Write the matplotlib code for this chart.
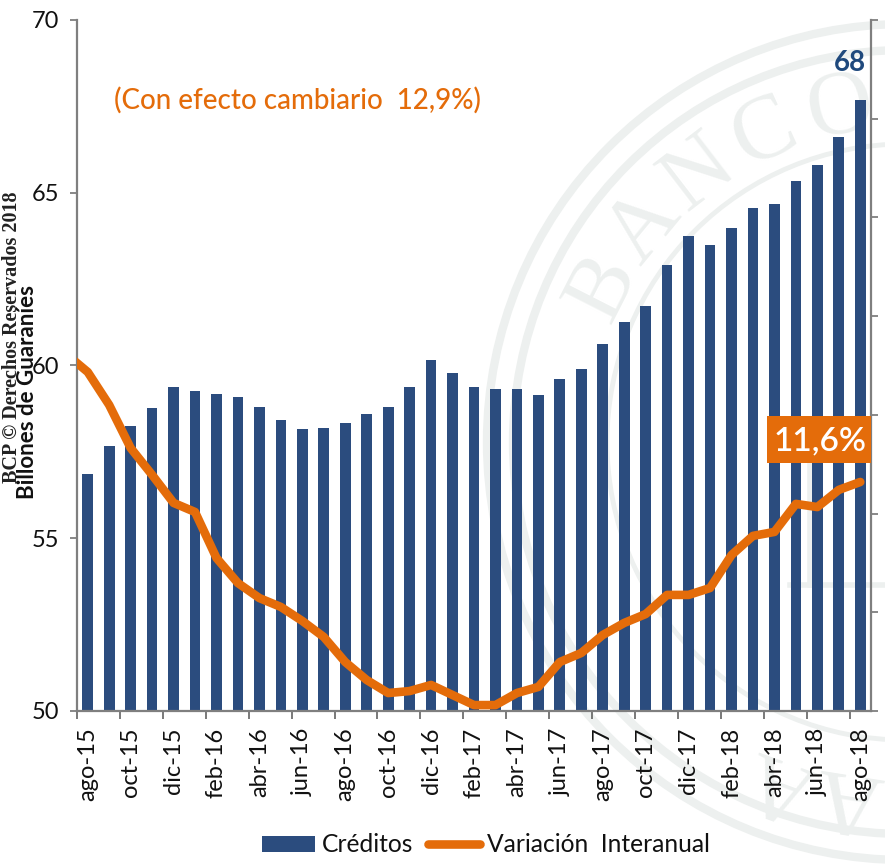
import math
import matplotlib
matplotlib.use("Agg")
import matplotlib.pyplot as plt
from matplotlib.patches import Circle, Rectangle

# datos
meses = ["ago-15", "sep-15", "oct-15", "nov-15", "dic-15", "ene-16", "feb-16", "mar-16", "abr-16", "may-16",
         "jun-16", "jul-16", "ago-16", "sep-16", "oct-16", "nov-16", "dic-16", "ene-17", "feb-17", "mar-17",
         "abr-17", "may-17", "jun-17", "jul-17", "ago-17", "sep-17", "oct-17", "nov-17", "dic-17", "ene-18",
         "feb-18", "mar-18", "abr-18", "may-18", "jun-18", "jul-18", "ago-18"]
creditos = [56.86, 57.67, 58.25, 58.77, 59.38, 59.26, 59.17, 59.09, 58.80, 58.42,
            58.16, 58.19, 58.34, 58.60, 58.80, 59.38, 60.16, 59.78, 59.38, 59.32,
            59.32, 59.15, 59.60, 59.90, 60.62, 61.26, 61.72, 62.90, 63.75, 63.50,
            63.98, 64.56, 64.67, 65.34, 65.80, 66.60, 67.68]
variacion = [17.17, 15.50, 13.32, 11.96, 10.54, 10.08, 7.75, 6.48, 5.72, 5.27,
             4.56, 3.75, 2.48, 1.57, 0.91, 1.01, 1.32, 0.81, 0.30, 0.30,
             0.91, 1.22, 2.48, 2.94, 3.85, 4.46, 4.91, 5.88, 5.88, 6.23,
             7.90, 8.87, 9.07, 10.49, 10.33, 11.20, 11.60]
variacion_previa = 18.08  # jul-15, queda cortado por el eje

AZUL = "#2b4c7e"
NARANJA = "#e46c0a"
GRIS = "#7f7f7f"
SELLO = "#edf0ef"

W, H = 885, 865
plt.rcParams["font.family"] = ["Lato", "DejaVu Sans"]

fig = plt.figure(figsize=(W / 100, H / 100), dpi=100)


def fx(x):
    return x / W


def fy(y):
    return 1 - y / H


# sello de fondo
bg = fig.add_axes([0, 0, 1, 1], zorder=-1)
bg.set_xlim(0, W)
bg.set_ylim(H, 0)
bg.axis("off")
cx, cy = 905, 442
for r, lw in [(418, 6), (392, 6), (298, 3.5)]:
    bg.add_patch(Circle((cx, cy), r, fill=False, ec=SELLO, lw=lw))
for letra, ang, r in [("B", 153, 338), ("A", 140.5, 338), ("N", 127.5, 338), ("C", 114.5, 338), ("O", 101, 338),
                      ("A", -99, 358), ("A", -110, 362)]:
    t = math.radians(ang)
    bg.text(cx + r * math.cos(t), cy - r * math.sin(t), letra, color=SELLO, fontsize=66,
            family="Liberation Serif", rotation=ang - 90, rotation_mode="anchor",
            ha="center", va="center")
bg.plot([790, 885], [585, 585], color=SELLO, lw=4)
bg.plot([810, 810], [420, 585], color=SELLO, lw=4)

ax = fig.add_axes([fx(77), fy(711), (871 - 77) / W, (711 - 20) / H], zorder=1)
ax.patch.set_alpha(0)
x = list(range(len(meses)))
ax.bar(x, creditos, width=0.5, color=AZUL, label="Créditos")
ax.set_xlim(-0.5, 36.5)
ax.set_ylim(50, 70)
ax.set_yticks([50, 55, 60, 65, 70])
ax.tick_params(axis="y", length=5, width=1.3, color=GRIS, labelsize=17, pad=8, labelcolor="#111111")

# marcas entre categorias, etiquetas en el centro
ax.set_xticks([i - 0.5 for i in x[::2]])
ax.set_xticklabels([])
ax.tick_params(axis="x", which="major", length=6, width=1.1, color="#555555")
ax.set_xticks(x[::2], minor=True)
ax.set_xticklabels(meses[::2], minor=True, rotation=90, ha="center", va="top", fontsize=17, color="#111111")
ax.tick_params(axis="x", which="minor", length=0, pad=12)

for s in ["left", "bottom"]:
    ax.spines[s].set_color(GRIS)
    ax.spines[s].set_linewidth(1.6)
ax.spines["top"].set_visible(False)
ax.spines["right"].set_visible(False)

ax2 = ax.twinx()
ax2.set_ylim(0, 35)
ax2.set_yticks([0, 5, 10, 15, 20, 25, 30, 35])
ax2.set_yticklabels([])
ax2.tick_params(axis="y", length=5, width=1.3, color=GRIS)
for s in ["left", "top", "bottom"]:
    ax2.spines[s].set_visible(False)
ax2.spines["right"].set_color(GRIS)
ax2.spines["right"].set_linewidth(1.6)
ax2.plot([-1] + x, [variacion_previa] + variacion, color=NARANJA, lw=6.2,
         solid_joinstyle="round", solid_capstyle="round", label="Variación  Interanual")

ax.annotate(f"{round(creditos[-1])}", (x[-1], creditos[-1]), xytext=(-10, 37), textcoords="offset pixels",
            ha="center", va="center", fontsize=20, fontweight="bold", color="#1f497d")

# textos sueltos
fig.text(fx(298), fy(100), "(Con efecto cambiario  12,9%)", color=NARANJA, fontsize=20,
         fontweight="medium", ha="center", va="center")
fig.add_artist(Rectangle((fx(767), fy(463)), 104 / W, 47 / H, transform=fig.transFigure,
                         fc=NARANJA, ec="none", zorder=5))
fig.text(fx(820), fy(441), "11,6%", color="white", fontsize=24, fontweight="semibold",
         ha="center", va="center", zorder=6)
fig.text(fx(28), fy(392), "Billones de Guaraníes", rotation=90, fontsize=16, fontweight="bold",
         ha="center", va="center", color="#111111", zorder=6)
fig.text(fx(12), fy(337), "BCP © Derechos Reservados 2018", rotation=90, fontsize=14.5, fontweight="bold",
         family="Liberation Serif", ha="center", va="center", color="#222222", zorder=6)

h1, l1 = ax.get_legend_handles_labels()
h2, l2 = ax2.get_legend_handles_labels()
fig.legend(h1 + h2, l1 + l2, loc="center", bbox_to_anchor=(fx(486), fy(845)), ncol=2, frameon=False,
           fontsize=17.7, handlelength=2.15, handleheight=0.6, handletextpad=0.25, columnspacing=0.6,
           labelcolor="#111111")

fig.savefig("out.png", dpi=100)
